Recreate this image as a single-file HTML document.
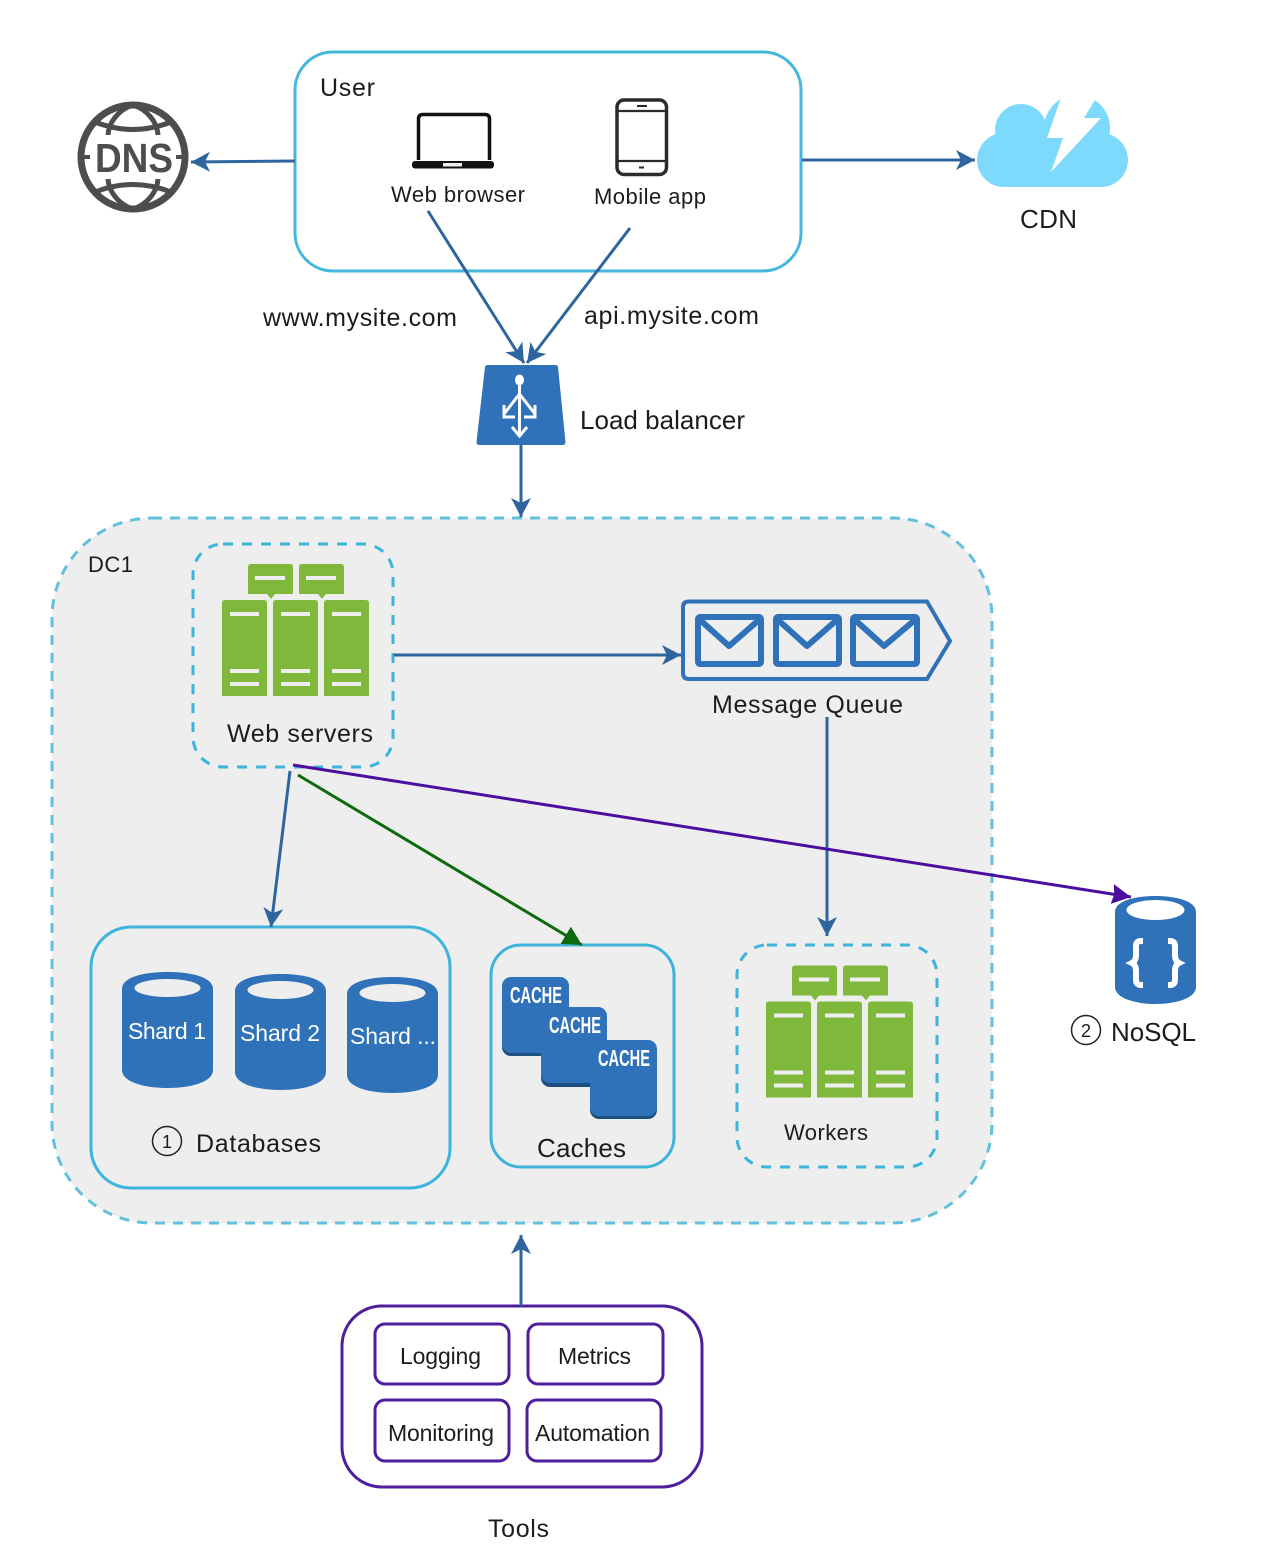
<!DOCTYPE html>
<html><head><meta charset="utf-8"><style>html,body{margin:0;padding:0;background:#fff}svg{display:block}text{font-family:"Liberation Sans",sans-serif;fill:#1c1c1c}</style></head><body>
<svg width="1264" height="1548" viewBox="0 0 1264 1548" xmlns="http://www.w3.org/2000/svg">
<defs>
<marker id="b" markerUnits="userSpaceOnUse" markerWidth="20" markerHeight="20" refX="19" refY="10" orient="auto"><path d="M0 0L19 10L0 20L5 10Z" fill="#2f659f"/></marker>
<marker id="g" markerUnits="userSpaceOnUse" markerWidth="20" markerHeight="20" refX="19" refY="10" orient="auto"><path d="M0 0L19 10L0 20Z" fill="#0f6a0f"/></marker>
<marker id="p" markerUnits="userSpaceOnUse" markerWidth="20" markerHeight="20" refX="19" refY="10" orient="auto"><path d="M0 0L19 10L0 20L2 10Z" fill="#4b0f9f"/></marker>
<g id="srv">
<g fill="#80b83c">
<path d="M248 567q0-3 3-3h39q3 0 3 3v27h-18l-4 5-4-5h-19z"/>
<path d="M299 567q0-3 3-3h39q3 0 3 3v27h-18l-4 5-4-5h-19z"/>
<path d="M222 603q0-3 3-3h39q3 0 3 3v93h-45z"/>
<path d="M273 603q0-3 3-3h39q3 0 3 3v93h-45z"/>
<path d="M324 603q0-3 3-3h39q3 0 3 3v93h-45z"/>
</g>
<g stroke="#eee" stroke-width="4">
<path d="M255 578h30M306 578h30M230 614h29M230 671h29M230 684h29M281 614h29M281 671h29M281 684h29M332 614h29M332 671h29M332 684h29"/>
</g>
</g>
<g id="cyl"><path d="M0 17C0 5 22 0 45.500 0S91 5 91 17V98C91 110 69 116 45.500 116S0 110 0 98Z" fill="#2f72b9"/><ellipse cx="45.500" cy="16" rx="33" ry="9" fill="#eee"/></g>
</defs>

<!-- User -->
<rect x="295" y="52" width="506" height="219" rx="38" fill="#fff" stroke="#45b6dc" stroke-width="3"/>
<text x="320" y="96" font-size="25" textLength="55">User</text>
<path d="M418.500 160V119q0-4.500 4.500-4.500h62q4.500 0 4.500 4.500V160" fill="none" stroke="#111" stroke-width="3.500"/>
<rect x="412" y="161" width="82" height="7.500" rx="3" fill="#111"/><rect x="443" y="163" width="19" height="3.500" fill="#eee"/>
<text x="391" y="202" font-size="22" textLength="134">Web browser</text>
<rect x="617" y="100" width="49.500" height="74.500" rx="7" fill="#fff" stroke="#2b2b2b" stroke-width="3.500"/>
<path d="M618 111H665M618 161H665" stroke="#2b2b2b" stroke-width="2.200"/>
<path d="M637 106H647M639 167.500H644" stroke="#2b2b2b" stroke-width="2"/>
<text x="594" y="204" font-size="22" textLength="112">Mobile app</text>

<!-- DNS -->
<g fill="none" stroke="#4d4d4d">
<circle cx="133" cy="157" r="52" stroke-width="7"/>
<path d="M95 122Q133 137 171 122M95 192Q133 177 171 192" stroke-width="5"/>
<path d="M108 135C109 121 120 109 133 105C146 109 157 121 158 135M108 179C109 193 120 205 133 209C146 205 157 193 158 179" stroke-width="5"/>
<path d="M81 157H90M176 157H185" stroke-width="4"/>
</g>
<text x="134" y="172" font-size="41" font-weight="bold" text-anchor="middle" style="fill:#4d4d4d" textLength="78" lengthAdjust="spacingAndGlyphs">DNS</text>

<!-- CDN -->
<g fill="#7ddafc"><circle cx="1004" cy="160" r="27"/><circle cx="1021" cy="130" r="26"/><circle cx="1101" cy="160" r="27"/><circle cx="1077" cy="128" r="33"/><rect x="1004" y="130" width="97" height="57"/></g>
<path d="M1063 92L1047 138H1063L1051 172L1101 118H1084L1095 100V92Z" fill="#fff"/>
<text x="1020" y="228" font-size="26" textLength="57">CDN</text>

<text x="263" y="326" font-size="25" textLength="194">www.mysite.com</text>
<text x="584" y="324" font-size="25" textLength="175">api.mysite.com</text>

<!-- LB -->
<path d="M485 367q.300-2 3-2H555q3 0 3 2L565.500 442q0 3-3 3H479.500q-3 0-3-3Z" fill="#2f72b9"/>
<g fill="none" stroke="#fff" stroke-width="3"><path d="M519.500 385V436M519.500 394L504 414M519.500 394L535 414M504 405V417H515M535 405V417H524M512 427L519.500 436L527 427"/></g>
<ellipse cx="519.500" cy="380" rx="4.500" ry="5.500" fill="#fff"/>
<text x="580" y="429" font-size="26" textLength="165">Load balancer</text>

<!-- DC1 -->
<rect x="52" y="518" width="940" height="705" rx="100" fill="#eee" stroke="#62c1dc" stroke-width="3" stroke-dasharray="10 8"/>
<text x="88" y="572" font-size="22" textLength="45">DC1</text>
<rect x="193" y="544" width="200" height="223" rx="30" fill="none" stroke="#3db4dc" stroke-width="3" stroke-dasharray="10 9"/>
<use href="#srv"/>
<text x="227" y="742" font-size="25" textLength="146">Web servers</text>

<!-- MQ -->
<path d="M689 601.500H927L950 641L927 679H689q-6 0-6-6V607q0-5.500 6-5.500Z" fill="none" stroke="#2f72b9" stroke-width="4"/>
<g fill="none" stroke="#2f72b9" stroke-width="6" stroke-linejoin="round">
<rect x="698" y="617" width="63" height="47" rx="2"/><path d="M699 619L729 646L760 619"/>
<rect x="776" y="617" width="63" height="47" rx="2"/><path d="M777 619L807 646L838 619"/>
<rect x="853" y="617" width="64" height="47" rx="2"/><path d="M854 619L884 646L916 619"/>
</g>
<text x="712" y="713" font-size="25" textLength="191">Message Queue</text>

<!-- Databases -->
<rect x="91" y="927" width="359" height="261" rx="40" fill="none" stroke="#3db4dc" stroke-width="3"/>
<use href="#cyl" x="122" y="972"/><use href="#cyl" x="235" y="974"/><use href="#cyl" x="347" y="977"/>
<g font-size="23"><text x="128" y="1039" style="fill:#fff" textLength="78">Shard 1</text><text x="240" y="1041" style="fill:#fff" textLength="80">Shard 2</text><text x="350" y="1044" style="fill:#fff" textLength="86">Shard ...</text></g>
<circle cx="167" cy="1141" r="14.500" fill="none" stroke="#222" stroke-width="1.500"/><text x="167" y="1148" font-size="18" text-anchor="middle">1</text>
<text x="196" y="1152" font-size="25" textLength="125">Databases</text>

<!-- Caches -->
<rect x="491" y="945" width="183" height="222" rx="30" fill="none" stroke="#3db4dc" stroke-width="3"/>
<g>
<rect x="502" y="979" width="67" height="77" rx="9" fill="#1d4f80"/><rect x="502" y="977" width="67" height="76" rx="9" fill="#2f72b9"/>
<rect x="541" y="1009" width="66" height="78" rx="9" fill="#1d4f80"/><rect x="541" y="1007" width="66" height="76" rx="9" fill="#2f72b9"/>
<rect x="590" y="1042" width="67" height="77" rx="9" fill="#1d4f80"/><rect x="590" y="1040" width="67" height="76" rx="9" fill="#2f72b9"/>
</g>
<g font-size="23" style="font-weight:bold"><text x="510" y="1003" style="fill:#fff" textLength="52" lengthAdjust="spacingAndGlyphs">CACHE</text><text x="549" y="1033" style="fill:#fff" textLength="52" lengthAdjust="spacingAndGlyphs">CACHE</text><text x="598" y="1066" style="fill:#fff" textLength="52" lengthAdjust="spacingAndGlyphs">CACHE</text></g>
<text x="537" y="1157" font-size="26" textLength="89">Caches</text>

<!-- Workers -->
<rect x="737" y="945" width="200" height="222" rx="30" fill="none" stroke="#3db4dc" stroke-width="3" stroke-dasharray="10 9"/>
<use href="#srv" x="544" y="401.500"/>
<text x="784" y="1140" font-size="22" textLength="84">Workers</text>

<!-- NoSQL -->
<path d="M1115 912C1115 901 1135 896 1155.500 896S1196 901 1196 912V987C1196 998 1176 1004 1155.500 1004S1115 998 1115 987Z" fill="#2f72b9"/>
<ellipse cx="1155.500" cy="910" rx="29" ry="10" fill="#fff"/>
<g fill="none" stroke="#fff" stroke-width="6"><path d="M1143 941H1141Q1136 941 1136 946V955Q1136 961 1132 963Q1136 965 1136 971V980Q1136 985 1141 985H1143"/><path d="M1168 941H1170Q1175 941 1175 946V955Q1175 961 1179 963Q1175 965 1175 971V980Q1175 985 1170 985H1168"/></g>
<circle cx="1086" cy="1030" r="14.500" fill="none" stroke="#222" stroke-width="1.500"/><text x="1086" y="1037" font-size="18" text-anchor="middle">2</text>
<text x="1111" y="1041" font-size="26" textLength="85">NoSQL</text>

<!-- Tools -->
<rect x="342" y="1306" width="360" height="181" rx="40" fill="#fff" stroke="#4d1f9c" stroke-width="3"/>
<g fill="none" stroke="#4d1f9c" stroke-width="3">
<rect x="375" y="1324" width="134" height="60" rx="10"/><rect x="528" y="1324" width="135" height="60" rx="10"/>
<rect x="375" y="1400" width="134" height="61" rx="10"/><rect x="527" y="1400" width="134" height="61" rx="10"/>
</g>
<g font-size="23"><text x="400" y="1364" textLength="81">Logging</text><text x="558" y="1364" textLength="73">Metrics</text><text x="388" y="1441" textLength="106">Monitoring</text><text x="535" y="1441" textLength="115">Automation</text></g>
<text x="488" y="1537" font-size="25" textLength="61">Tools</text>

<!-- Connectors -->
<g fill="none" stroke-width="3">
<g stroke="#2f659f">
<path d="M295 161L191 162" marker-end="url(#b)"/>
<path d="M802 160H975" marker-end="url(#b)"/>
<path d="M428 211L524 363" marker-end="url(#b)"/>
<path d="M630 228L527 363" marker-end="url(#b)"/>
<path d="M521 445V517" marker-end="url(#b)"/>
<path d="M394 655H681" marker-end="url(#b)"/>
<path d="M827 717V936" marker-end="url(#b)"/>
<path d="M290 771L271 927" marker-end="url(#b)"/>
<path d="M521 1306V1235" marker-end="url(#b)"/>
</g>
<path d="M298 775L582 945" stroke="#0f6a0f" marker-end="url(#g)"/>
<path d="M293 765L1131 897" stroke="#4b0f9f" marker-end="url(#p)"/>
</g>
</svg>
</body></html>
